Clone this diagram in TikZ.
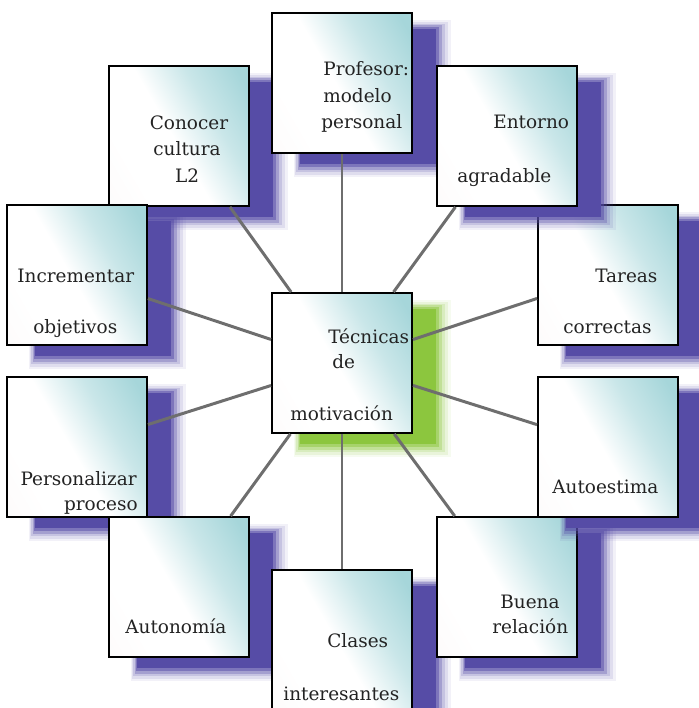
\documentclass[tikz,border=0pt]{standalone}
\usepackage{fontspec}
\setmainfont{DejaVu Serif}
\usetikzlibrary{shadows}

\definecolor{sombra}{RGB}{86,76,166}
\definecolor{verde}{RGB}{140,198,62}
\definecolor{aguamar}{RGB}{166,214,218}
\definecolor{rosado}{RGB}{251,247,247}
\definecolor{tinta}{RGB}{35,35,35}
\definecolor{gris}{RGB}{110,110,110}

\pgfdeclarehorizontalshading{cajagrad}{100bp}{color(0bp)=(rosado); color(30bp)=(white);
  color(48bp)=(white); color(64bp)=(aguamar!60); color(80bp)=(aguamar); color(100bp)=(aguamar)}

\tikzset{
  capa/.style n args={3}{general shadow={fill=#1,opacity=#3,
    shadow xshift=0.54cm,shadow yshift=-0.28cm,shadow scale=#2}},
  caja/.style={draw=black,line width=1.1pt,minimum size=2.8cm,inner sep=0pt,
    capa={#1}{1.12}{0.08},capa={#1}{1.09}{0.12},capa={#1}{1.06}{0.18},
    capa={#1}{1.03}{0.3},capa={#1}{1.00}{0.5},capa={#1}{0.97}{1},
    shade,shading=cajagrad,shading angle=30},
  caja/.default=sombra,
  rotulo/.style={anchor=base west,inner sep=0pt,text=tinta,font=\fontsize{10.5}{12}\selectfont},
  enlace/.style={draw=gris,line width=1.7pt}
}

\begin{document}
\begin{tikzpicture}[x=0.02cm,y=-0.02cm]
\useasboundingbox (0,0) rectangle (699,708);
\clip (0,0) rectangle (699,708);
% cajas exteriores
\node[caja] (pers) at (77,447) {};
\node[caja] (auton) at (179,587) {};
\node[caja] (clases) at (342,640) {};
\node[caja] (buena) at (507,587) {};
\node[caja] (autoe) at (608,447) {};
\node[caja] (cono) at (179,136) {};
\node[caja] (incr) at (77,275) {};
\node[caja] (prof) at (342,83) {};
\node[caja] (tareas) at (608,275) {};
\node[caja] (ent) at (507,136) {};
% caja central
\node[caja=verde] (tec) at (342,363) {};
\foreach \dest in {prof,ent,tareas,autoe,buena,clases,auton,pers,incr,cono}
  \draw[enlace] (tec) -- (\dest);
% textos
\node[rotulo] (t1) at (328,343) {Técnicas};
\node[rotulo] (t2) at (332,368) {de};
\node[rotulo] (t3) at (290,420) {motivación};
\node[rotulo] (p1) at (323,75) {Profesor:};
\node[rotulo] (p2) at (323,102) {modelo};
\node[rotulo] (p3) at (321,128) {personal};
\node[rotulo,anchor=base] (c1) at (189,129) {Conocer};
\node[rotulo,anchor=base] (c2) at (187,155) {cultura};
\node[rotulo,anchor=base] (c3) at (187,182) {L2};
\node[rotulo] (e1) at (493,128) {Entorno};
\node[rotulo] (e2) at (457,182) {agradable};
\node[rotulo] (i1) at (17,282) {Incrementar};
\node[rotulo] (i2) at (33,333) {objetivos};
\node[rotulo] (r1) at (595,282) {Tareas};
\node[rotulo] (r2) at (563,333) {correctas};
\node[rotulo,anchor=base east] (s1) at (137,485) {Personalizar};
\node[rotulo,anchor=base east] (s2) at (138,510) {proceso};
\node[rotulo] (a1) at (552,493) {Autoestima};
\node[rotulo] (n1) at (125,633) {Autonomía};
\node[rotulo] (b1) at (500,608) {Buena};
\node[rotulo] (b2) at (492,633) {relación};
\node[rotulo] (l1) at (327,647) {Clases};
\node[rotulo] (l2) at (283,700) {interesantes};
\end{tikzpicture}
\end{document}
